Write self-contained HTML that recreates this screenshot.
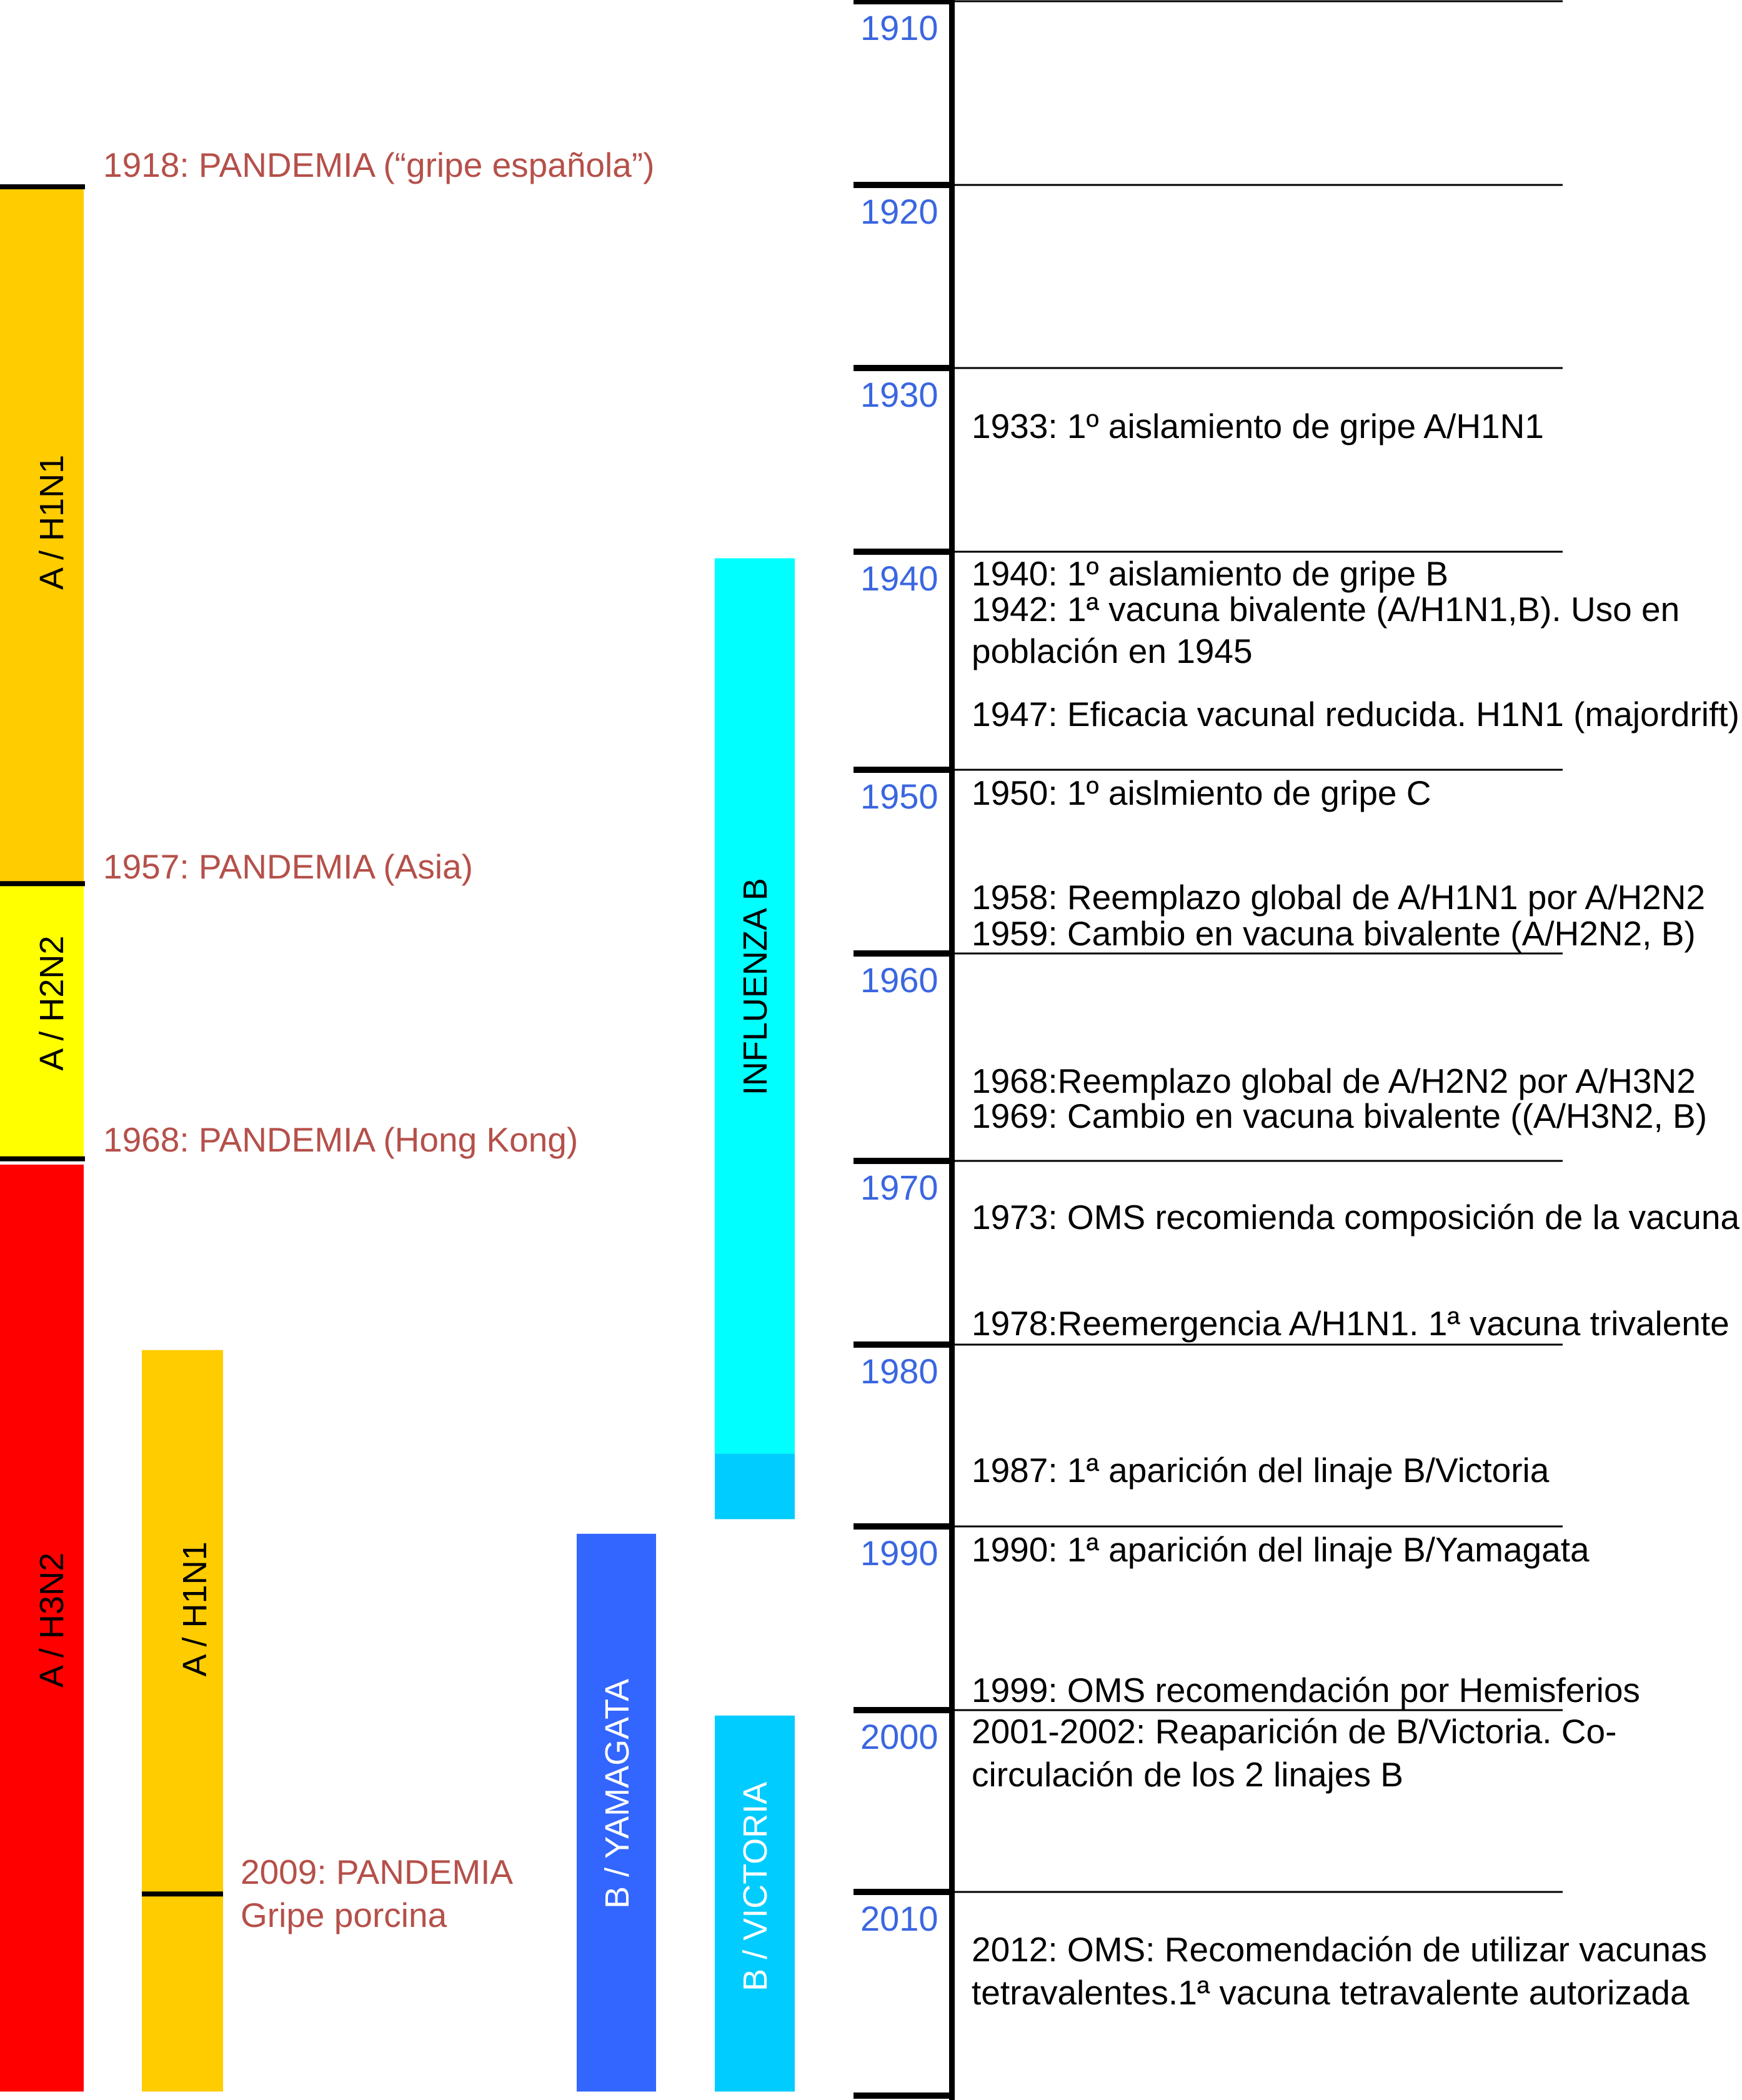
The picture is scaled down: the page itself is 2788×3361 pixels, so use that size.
<!DOCTYPE html>
<html><head><meta charset="utf-8">
<style>
html,body{margin:0;padding:0;background:#fff;}
svg{display:block;font-family:"Liberation Sans",sans-serif;}
</style></head>
<body>
<svg id="chart" width="2788" height="3361" viewBox="0 0 2788 3361" xmlns="http://www.w3.org/2000/svg"></svg>
<script>
// ---- data ----
const tickYears = [1910,1920,1930,1940,1950,1960,1970,1980,1990,2000,2010,2020];
const tickLabels = ["1910","1920","1930","1940","1950","1960","1970","1980","1990","2000","2010",""];
const barNames = ["A / H1N1","A / H2N2","A / H3N2","A / H1N1","INFLUENZA B","","B / YAMAGATA","B / VICTORIA"];
const barStart = [1920.1,1956.2,1970.2,1980.3,1940.3,1986.0,1990.4,2000.3];
const barEnd   = [1956.2,1969.9,2019.8,2019.8,1986.0,1989.6,2019.8,2019.8];
const labelYears = [1938.4,1962.4,1995.1,1994.5,1961.6,1988,2004.6,2009.7];
const eventYears = [1933.2,1941.03,1942.66,1944.58,1947.48,1951.29,1956.97,1958.95,1966.17,1967.86,1973.10,1978.88,1986.94,1991.29,1998.95,2001.20,2003.57,2012.85,2014.97];
const eventTexts = ["1933: 1º aislamiento de gripe A/H1N1","1940: 1º aislamiento de gripe B","1942: 1ª vacuna bivalente (A/H1N1,B). Uso en","población en 1945","1947: Eficacia vacunal reducida. H1N1 (majordrift)","1950: 1º aislmiento de gripe C","1958: Reemplazo global de A/H1N1 por A/H2N2","1959: Cambio en vacuna bivalente (A/H2N2, B)","1968:Reemplazo global de A/H2N2 por A/H3N2","1969: Cambio en vacuna bivalente ((A/H3N2, B)","1973: OMS recomienda composición de la vacuna","1978:Reemergencia A/H1N1. 1ª vacuna trivalente","1987: 1ª aparición del linaje B/Victoria","1990: 1ª aparición del linaje B/Yamagata","1999: OMS recomendación por Hemisferios","2001-2002: Reaparición de B/Victoria. Co-","circulación de los 2 linajes B","2012: OMS: Recomendación de utilizar vacunas","tetravalentes.1ª vacuna tetravalente autorizada"];
const pandemicYears = [1918.95,1955.31,1969.0,2008.93,2011.17];
const pandemicTexts = ["1918: PANDEMIA (“gripe española”)","1957: PANDEMIA (Asia)","1968: PANDEMIA (Hong Kong)","2009: PANDEMIA","Gripe porcina"];
// ---- layout ----
const tickPx = [2,296,589,883,1232,1526,1858,2152,2443,2737,3028,3354];
function y(yr){
  for(let i=0;i<tickYears.length-1;i++){
    if(yr<=tickYears[i+1]||i===tickYears.length-2){
      const t=(yr-tickYears[i])/(tickYears[i+1]-tickYears[i]);
      return tickPx[i]+t*(tickPx[i+1]-tickPx[i]);
    }
  }
}
const barX=[0,0,0,227,1144,1144,923,1144];
const barW=[134,134,134,130,128,128,127,128];
const labelX=[101,101,101,330,1227,1227,1006,1227];
const barColor=["#ffcc00","#ffff00","#ff0000","#ffcc00","#00ffff","#00ccff","#3366ff","#00ccff"];
const barTextColor=["#000","#000","#000","#000","#000","#000","#fff","#fff"];
const svg=document.getElementById('chart');
const NS="http://www.w3.org/2000/svg";
function mk(tag,attrs){const e=document.createElementNS(NS,tag);for(const k in attrs)e.setAttribute(k,attrs[k]);svg.appendChild(e);return e;}
// bars
barNames.forEach((n,i)=>{
  const y0=y(barStart[i]),y1=y(barEnd[i]);
  const r=mk('rect',{x:barX[i],y:y0,width:barW[i],height:y1-y0,fill:barColor[i]});
  
  
  if(n){
    const cx=labelX[i], cy=y(labelYears[i]);
    const t=mk('text',{x:cx,y:cy,'font-size':54,fill:barTextColor[i],'text-anchor':'middle',transform:`rotate(-90 ${cx} ${cy})`});
    t.textContent=n;
    
    
  }
});
// pandemic markers on bars
[[0,y(barStart[0]),136],[0,y(barStart[1]),136],[0,y(barEnd[1]),136],[227,y(2010.1),130]].forEach((m,i)=>{
  const l=mk('rect',{x:m[0],y:m[1]-4,width:m[2],height:8,fill:'#000'});
  
  
});
// pandemic labels
pandemicTexts.forEach((s,i)=>{
  const x=i>=3?385:165;
  const t=mk('text',{x:x,y:y(pandemicYears[i])+18,'font-size':55,fill:'#b5504a'});
  t.textContent=s;
  
  
});
// axis
const ax=mk('rect',{x:1519,y:0,width:9,height:3361,fill:'#000'});


tickYears.forEach((yr,i)=>{
  const ty=y(yr);
  const tk=mk('rect',{x:1366,y:ty-5,width:158,height:10,fill:'#000'});
  
  
  if(i<tickYears.length-1){
    const gl=mk('rect',{x:1524,y:ty-1.5,width:977,height:3,fill:'#000'});
    
    
  }
  if(tickLabels[i]){
    const t=mk('text',{x:1377,y:ty+62,'font-size':56,fill:'#3a66e0'});
    t.textContent=tickLabels[i];
    
    
  }
});
// events
eventTexts.forEach((s,i)=>{
  const t=mk('text',{x:1555,y:y(eventYears[i])+18,'font-size':55,fill:'#000'});
  t.textContent=s;
  
  
});
</script>
</body></html>
